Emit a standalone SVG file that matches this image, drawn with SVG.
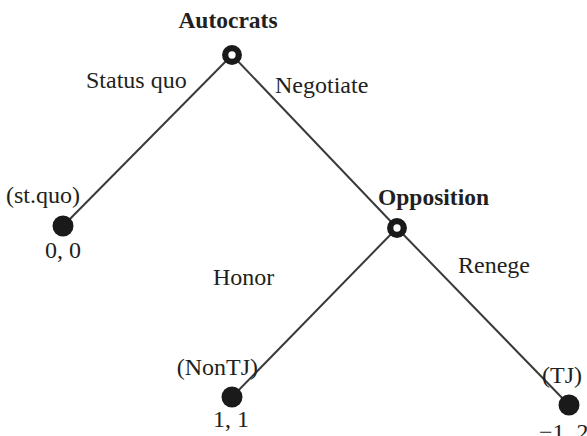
<svg xmlns="http://www.w3.org/2000/svg" width="587" height="436" viewBox="0 0 587 436">
<style>
text{font-family:"Liberation Serif","Times New Roman",serif;font-size:24px;fill:#231f20}
.b{font-weight:bold;font-size:23.5px}
.edge{stroke:#3a3a3a;stroke-width:2;fill:none}
.dec{fill:#fff;stroke:#1a1a1a;stroke-width:6.3}
.leaf{fill:#1a1a1a}
</style>
<rect width="587" height="436" fill="#fff"/>
<g id="connectors">
<line class="edge" x1="232" y1="55" x2="63" y2="226"/>
<line class="edge" x1="232" y1="55" x2="397" y2="228"/>
<line class="edge" x1="397" y1="228" x2="232" y2="397"/>
<line class="edge" x1="397" y1="228" x2="569" y2="405"/>
<text x="86" y="88">Status quo</text>
<text x="275" y="93">Negotiate</text>
<text x="213" y="285">Honor</text>
<text x="458" y="273">Renege</text>
</g>
<g id="autocrats">
<circle class="dec" cx="232" cy="55" r="6.8"/>
<text class="b" x="228" y="28" text-anchor="middle">Autocrats</text>
</g>
<g id="opposition">
<circle class="dec" cx="397" cy="228" r="6.8"/>
<text class="b" x="378" y="205">Opposition</text>
</g>
<g id="stquo">
<circle class="leaf" cx="63" cy="226" r="10.5"/>
<text x="6" y="203">(st.quo)</text>
<text x="63" y="258" text-anchor="middle">0, 0</text>
</g>
<g id="nontj">
<circle class="leaf" cx="232" cy="397" r="10.5"/>
<text x="258" y="375" text-anchor="end">(NonTJ)</text>
<text x="231" y="427" text-anchor="middle">1, 1</text>
</g>
<g id="tj">
<circle class="leaf" cx="569" cy="405" r="10.5"/>
<text x="542" y="383">(TJ)</text>
<text x="539" y="440">−1, 2</text>
</g>
</svg>
